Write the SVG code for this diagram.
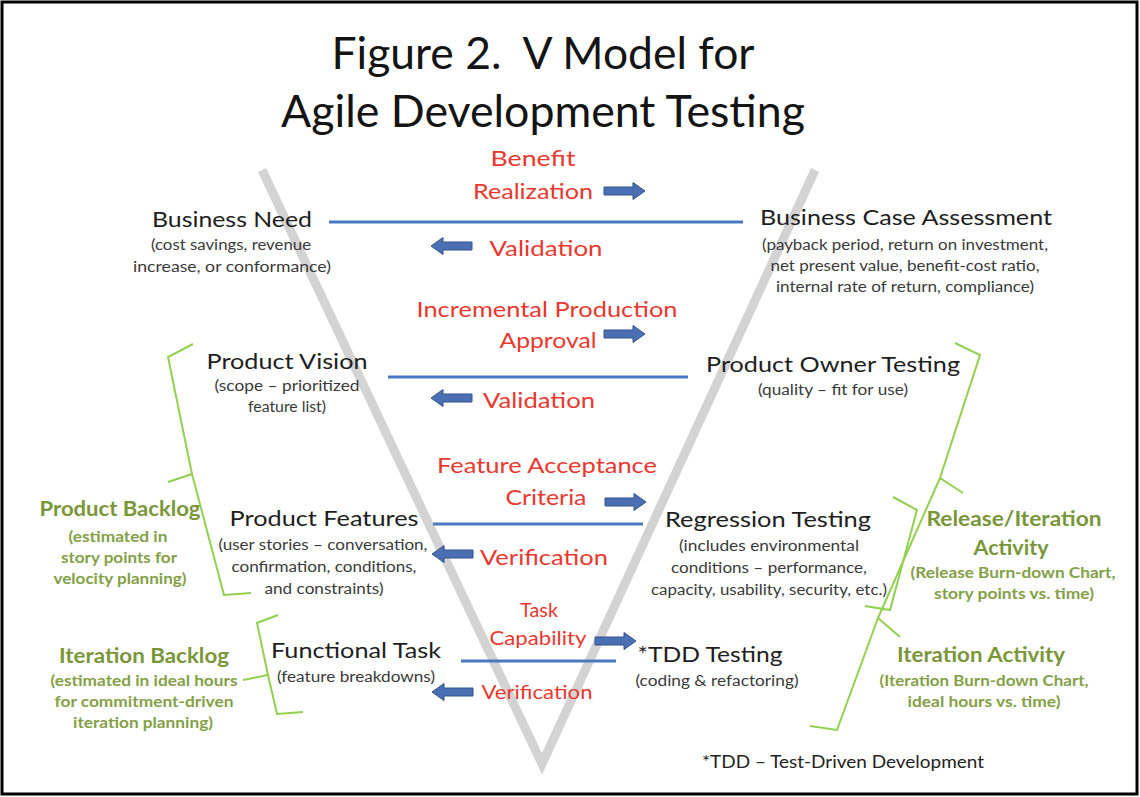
<svg xmlns="http://www.w3.org/2000/svg" xmlns:xlink="http://www.w3.org/1999/xlink" width="1140" height="797" viewBox="0 0 1140 797">
<style>
.t{font-family:Lato,"Open Sans","Liberation Sans",sans-serif;text-anchor:middle}
.title{font-size:44px;fill:#141414;white-space:pre}
.main{font-size:22px;fill:#1e1e1e}
.sub{font-size:14.5px;fill:#3a3a3a}
.red{font-size:22px;fill:#e8382f}
.gt{font-size:20px;font-weight:bold;fill:#7a963a}
.gs{font-size:14.5px;font-weight:bold;fill:#84a047}
.note{font-size:17px;fill:#222}
.hl{stroke:#4a78c2;stroke-width:3;fill:none}
.arr{fill:#4a6fb3;stroke:#34538c;stroke-width:1}
.brace{fill:none;stroke:#92d050;stroke-width:2;stroke-linejoin:miter}
</style>
<defs>
<path id="arrR" d="M0,-4 L29,-4 L29,-8.5 L41,0 L29,8.5 L29,4 L0,4 Z"/>
<path id="arrL" d="M41,-4 L12,-4 L12,-8.5 L0,0 L12,8.5 L12,4 L41,4 Z"/>
</defs>
<rect x="0" y="0" width="1140" height="797" fill="#fff"/>
<rect x="2" y="2" width="1135" height="792" fill="none" stroke="#000" stroke-width="3"/>

<g id="title">
<text class="t title" x="543" y="69" textLength="423" lengthAdjust="spacingAndGlyphs">Figure 2.  V Model for</text>
<text class="t title" x="543" y="127" textLength="524" lengthAdjust="spacingAndGlyphs">Agile Development Testing</text>
</g>

<g id="v-shape">
<path d="M262,170 L542,764 L815,170" fill="none" stroke="#d3d3d3" stroke-width="9" stroke-linejoin="miter" stroke-miterlimit="10"/>
</g>

<g id="connectors">
<line class="hl" x1="329" y1="222" x2="743" y2="222"/>
<line class="hl" x1="388" y1="377" x2="688" y2="377"/>
<line class="hl" x1="433" y1="524" x2="643" y2="524"/>
<line class="hl" x1="461" y1="661" x2="616" y2="661"/>
<use href="#arrR" class="arr" x="604" y="191"/>
<use href="#arrR" class="arr" x="604" y="334"/>
<use href="#arrR" class="arr" x="605" y="502"/>
<use href="#arrR" class="arr" x="595" y="641"/>
<use href="#arrL" class="arr" x="431" y="246"/>
<use href="#arrL" class="arr" x="431" y="398"/>
<use href="#arrL" class="arr" x="432" y="554"/>
<use href="#arrL" class="arr" x="432" y="692"/>
</g>

<g id="connector-labels">
<text class="t red" x="533" y="166" textLength="85" lengthAdjust="spacingAndGlyphs">Benefit</text>
<text class="t red" x="533" y="199" textLength="120" lengthAdjust="spacingAndGlyphs">Realization</text>
<text class="t red" x="546" y="256" textLength="113" lengthAdjust="spacingAndGlyphs">Validation</text>
<text class="t red" x="547" y="317" textLength="261" lengthAdjust="spacingAndGlyphs">Incremental Production</text>
<text class="t red" x="548" y="348" textLength="97" lengthAdjust="spacingAndGlyphs">Approval</text>
<text class="t red" x="539" y="408" textLength="112" lengthAdjust="spacingAndGlyphs">Validation</text>
<text class="t red" x="547" y="473" textLength="220" lengthAdjust="spacingAndGlyphs">Feature Acceptance</text>
<text class="t red" x="546" y="505" textLength="81" lengthAdjust="spacingAndGlyphs">Criteria</text>
<text class="t red" x="544" y="565" textLength="128" lengthAdjust="spacingAndGlyphs">Verification</text>
<text class="t red" x="539" y="617" style="font-size:20px" textLength="38" lengthAdjust="spacingAndGlyphs">Task</text>
<text class="t red" x="538" y="645" style="font-size:20px" textLength="97" lengthAdjust="spacingAndGlyphs">Capability</text>
<text class="t red" x="537" y="699" style="font-size:20px" textLength="111" lengthAdjust="spacingAndGlyphs">Verification</text>
</g>

<g id="business-need">
<text class="t main" x="232" y="227" textLength="160" lengthAdjust="spacingAndGlyphs">Business Need</text>
<text class="t sub" x="231" y="250" textLength="160" lengthAdjust="spacingAndGlyphs">(cost savings, revenue</text>
<text class="t sub" x="232" y="272" textLength="198" lengthAdjust="spacingAndGlyphs">increase, or conformance)</text>
</g>

<g id="business-case-assessment">
<text class="t main" x="906" y="225" textLength="292" lengthAdjust="spacingAndGlyphs">Business Case Assessment</text>
<text class="t sub" x="905" y="250" textLength="286" lengthAdjust="spacingAndGlyphs">(payback period, return on investment,</text>
<text class="t sub" x="905" y="271" textLength="269" lengthAdjust="spacingAndGlyphs">net present value, benefit-cost ratio,</text>
<text class="t sub" x="905" y="292" textLength="258" lengthAdjust="spacingAndGlyphs">internal rate of return, compliance)</text>
</g>

<g id="product-vision">
<text class="t main" x="287" y="369" textLength="161" lengthAdjust="spacingAndGlyphs">Product Vision</text>
<text class="t sub" x="287" y="391" textLength="145" lengthAdjust="spacingAndGlyphs">(scope – prioritized</text>
<text class="t sub" x="287" y="412" textLength="78" lengthAdjust="spacingAndGlyphs">feature list)</text>
</g>

<g id="product-owner-testing">
<text class="t main" x="833" y="372" textLength="254" lengthAdjust="spacingAndGlyphs">Product Owner Testing</text>
<text class="t sub" x="833" y="395" textLength="150" lengthAdjust="spacingAndGlyphs">(quality – fit for use)</text>
</g>

<g id="product-features">
<text class="t main" x="324" y="526" textLength="189" lengthAdjust="spacingAndGlyphs">Product Features</text>
<text class="t sub" x="323" y="550" textLength="209" lengthAdjust="spacingAndGlyphs">(user stories – conversation,</text>
<text class="t sub" x="324" y="572" textLength="185" lengthAdjust="spacingAndGlyphs">confirmation, conditions,</text>
<text class="t sub" x="324" y="594" textLength="119" lengthAdjust="spacingAndGlyphs">and constraints)</text>
</g>

<g id="regression-testing">
<text class="t main" x="768" y="527" textLength="206" lengthAdjust="spacingAndGlyphs">Regression Testing</text>
<text class="t sub" x="769" y="551" textLength="180" lengthAdjust="spacingAndGlyphs">(includes environmental</text>
<text class="t sub" x="769" y="573" textLength="196" lengthAdjust="spacingAndGlyphs">conditions – performance,</text>
<text class="t sub" x="769" y="595" textLength="236" lengthAdjust="spacingAndGlyphs">capacity, usability, security, etc.)</text>
</g>

<g id="functional-task">
<text class="t main" x="356" y="658" textLength="170" lengthAdjust="spacingAndGlyphs">Functional Task</text>
<text class="t sub" x="356" y="682" textLength="158" lengthAdjust="spacingAndGlyphs">(feature breakdowns)</text>
</g>

<g id="tdd-testing">
<text class="t main" x="710" y="662" textLength="145" lengthAdjust="spacingAndGlyphs">*TDD Testing</text>
<text class="t sub" x="717" y="686" textLength="163" lengthAdjust="spacingAndGlyphs">(coding &amp; refactoring)</text>
</g>

<g id="product-backlog">
<text class="t gt" x="120" y="516" textLength="161" lengthAdjust="spacingAndGlyphs">Product Backlog</text>
<text class="t gs" x="118" y="542" textLength="99" lengthAdjust="spacingAndGlyphs">(estimated in</text>
<text class="t gs" x="119" y="563" textLength="116" lengthAdjust="spacingAndGlyphs">story points for</text>
<text class="t gs" x="120" y="584" textLength="133" lengthAdjust="spacingAndGlyphs">velocity planning)</text>
</g>

<g id="iteration-backlog">
<text class="t gt" x="144" y="663" textLength="170" lengthAdjust="spacingAndGlyphs">Iteration Backlog</text>
<text class="t gs" x="144" y="686" textLength="187" lengthAdjust="spacingAndGlyphs">(estimated in ideal hours</text>
<text class="t gs" x="144" y="707" textLength="179" lengthAdjust="spacingAndGlyphs">for commitment-driven</text>
<text class="t gs" x="143" y="728" textLength="140" lengthAdjust="spacingAndGlyphs">iteration planning)</text>
</g>

<g id="release-iteration-activity">
<text class="t gt" x="1014" y="526" textLength="175" lengthAdjust="spacingAndGlyphs">Release/Iteration</text>
<text class="t gt" x="1011" y="555" textLength="75" lengthAdjust="spacingAndGlyphs">Activity</text>
<text class="t gs" x="1013" y="578" textLength="205" lengthAdjust="spacingAndGlyphs">(Release Burn-down Chart,</text>
<text class="t gs" x="1014" y="599" textLength="160" lengthAdjust="spacingAndGlyphs">story points vs. time)</text>
</g>

<g id="iteration-activity">
<text class="t gt" x="981" y="662" textLength="168" lengthAdjust="spacingAndGlyphs">Iteration Activity</text>
<text class="t gs" x="984" y="686" textLength="209" lengthAdjust="spacingAndGlyphs">(Iteration Burn-down Chart,</text>
<text class="t gs" x="984" y="707" textLength="153" lengthAdjust="spacingAndGlyphs">ideal hours vs. time)</text>
</g>

<g id="braces">
<path class="brace" d="M193,344 L168,357 L192,474 L168,482 M192,474 L224,595 L251,593"/>
<path class="brace" d="M278,615 L257,623 L268,675 L243,680 M268,675 L277,714 L303,712"/>
<path class="brace" d="M955,343 L980,355 L940,478 L963,493 M940,478 L878,618 L900,637 M878,618 L837,730 L810,726"/>
<path class="brace" d="M893,497 L917,510 L890,610 L865,606"/>
</g>

<g id="footnote">
<text class="t note" x="843" y="768" textLength="282" lengthAdjust="spacingAndGlyphs">*TDD – Test-Driven Development</text>
</g>
</svg>
